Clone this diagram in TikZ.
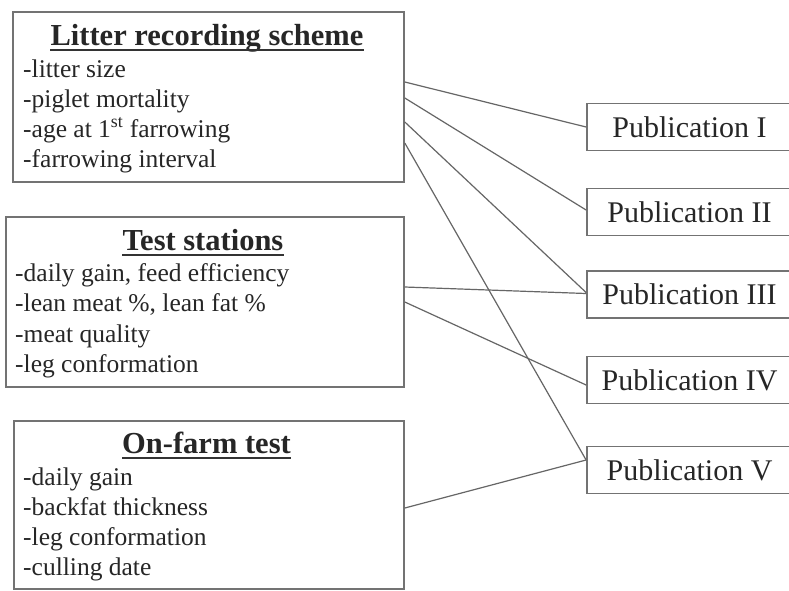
\documentclass[tikz,border=0pt]{standalone}
\usepackage{fontspec}
\setmainfont{Liberation Serif}
\begin{document}
\begin{tikzpicture}[x=1pt,y=-1pt,
 box/.style={draw=black!55, line width=1.8pt, inner sep=0pt, anchor=north west},
 pub/.style={draw=black!55, line width=1.8pt, minimum width=205pt, minimum height=47pt, inner sep=0pt, font=\fontsize{30}{30}\selectfont, text=black!85},
 ttl/.style={anchor=base, inner sep=0pt, font=\fontsize{30.5}{30}\selectfont\bfseries, text=black!85},
 itm/.style={anchor=base west, inner sep=0pt, font=\fontsize{25.5}{30}\selectfont, text=black!85},
 con/.style={draw=black!60, line width=1.2pt},
 ul/.style={draw=black!80, line width=1.8pt}]
\clip (0,0) rectangle (789,590);
\fill[white] (0,0) rectangle (789,590);

% source boxes
\node[box, minimum width=391pt, minimum height=170pt] (b1) at (12,11) {};
\node[box, minimum width=398pt, minimum height=170pt] (b2) at (5,216) {};
\node[box, minimum width=390pt, minimum height=168pt] (b3) at (13,420) {};

% titles
\node[ttl] (t1) at (207,45) {Litter recording scheme};
\node[ttl] (t2) at (203,250) {Test stations};
\node[ttl] (t3) at (206.5,453) {On-farm test};
\draw[ul] ([yshift=-5pt]t1.base west) -- ([yshift=-5pt]t1.base east);
\draw[ul] ([yshift=-5pt]t2.base west) -- ([yshift=-5pt]t2.base east);
\draw[ul] ([yshift=-5pt]t3.base west) -- ([yshift=-5pt]t3.base east);

% items
\node[itm] (a1) at (23,77) {-litter size};
\node[itm] (a2) at (23,107) {-piglet mortality};
\node[itm] (a3) at (23,137) {-age at 1\textsuperscript{st} farrowing};
\node[itm] (a4) at (23,167) {-farrowing interval};

\node[itm] (s1) at (15,281) {-daily gain, feed efficiency};
\node[itm] (s2) at (15,311) {-lean meat \%, lean fat \%};
\node[itm] (s3) at (15,342) {-meat quality};
\node[itm] (s4) at (15,372) {-leg conformation};

\node[itm] (f1) at (23,485) {-daily gain};
\node[itm] (f2) at (23,515) {-backfat thickness};
\node[itm] (f3) at (23,545) {-leg conformation};
\node[itm] (f4) at (23,575) {-culling date};

% publications
\node[pub] (p1) at (689.5,127) {Publication I};
\node[pub] (p2) at (689.5,212) {Publication II};
\node[pub] (p3) at (689.5,294.5) {Publication III};
\node[pub] (p4) at (689.5,380) {Publication IV};
\node[pub] (p5) at (689.5,470) {Publication V};

% connectors
\draw[con] ([yshift=-71pt]b1.north east) -- (p1.west);
\draw[con] ([yshift=-87pt]b1.north east) -- ([yshift=2pt]p2.west);
\draw[con] ([yshift=-111pt]b1.north east) -- ([yshift=2pt]p3.west);
\draw[con] ([yshift=-132pt]b1.north east) -- ([yshift=10pt]p5.west);
\draw[con] ([yshift=-71pt]b2.north east) -- ([yshift=1pt]p3.west);
\draw[con] ([yshift=-86pt]b2.north east) -- ([yshift=-5pt]p4.west);
\draw[con] ([yshift=-88pt]b3.north east) -- ([yshift=10pt]p5.west);
\end{tikzpicture}
\end{document}
